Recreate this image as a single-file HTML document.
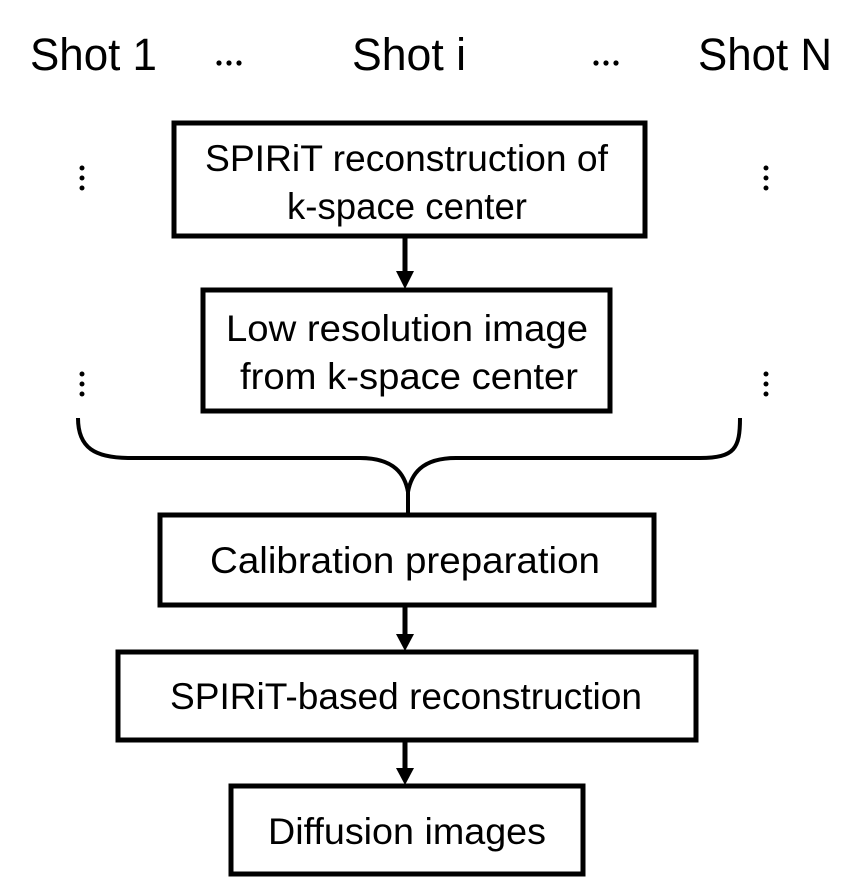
<!DOCTYPE html>
<html><head><meta charset="utf-8"><style>
html,body{margin:0;padding:0;background:#fff;width:864px;height:881px;overflow:hidden}
text{font-family:"Liberation Sans",sans-serif;fill:#000}
</style></head><body>
<svg width="864" height="881" viewBox="0 0 864 881" xmlns="http://www.w3.org/2000/svg">
<g font-size="45">
<text x="30" y="70" textLength="127" lengthAdjust="spacingAndGlyphs">Shot 1</text>
<text x="352" y="70" textLength="114" lengthAdjust="spacingAndGlyphs">Shot i</text>
<text x="698" y="70" textLength="134" lengthAdjust="spacingAndGlyphs">Shot N</text>
</g>
<g fill="#000">
<circle cx="219" cy="63" r="2.6"/><circle cx="229" cy="63" r="2.6"/><circle cx="239" cy="63" r="2.6"/>
<circle cx="596" cy="63" r="2.6"/><circle cx="606" cy="63" r="2.6"/><circle cx="616" cy="63" r="2.6"/>
<circle cx="82" cy="168" r="2.5"/><circle cx="82" cy="178" r="2.5"/><circle cx="82" cy="188" r="2.5"/>
<circle cx="766" cy="168" r="2.5"/><circle cx="766" cy="178" r="2.5"/><circle cx="766" cy="188" r="2.5"/>
<circle cx="82" cy="374" r="2.5"/><circle cx="82" cy="384" r="2.5"/><circle cx="82" cy="394" r="2.5"/>
<circle cx="766" cy="374" r="2.5"/><circle cx="766" cy="384" r="2.5"/><circle cx="766" cy="394" r="2.5"/>
</g>
<g fill="none" stroke="#000" stroke-width="5">
<rect x="174" y="123" width="471" height="113"/>
<rect x="203" y="290" width="407" height="121"/>
<rect x="160" y="515" width="494" height="90"/>
<rect x="118" y="652" width="578" height="88"/>
<rect x="231" y="786" width="352" height="88"/>
<path d="M78 418 C78 448 95 458 130 458 L360 458 C395 458 405 475 408 492 C411 475 421 458 456 458 L700 458 C735 458 740 448 740 418" stroke-width="4"/>
<line x1="408" y1="490" x2="408" y2="513" stroke-width="4"/>
<line x1="405" y1="238" x2="405" y2="272"/>
<line x1="405" y1="607" x2="405" y2="636"/>
<line x1="405" y1="742" x2="405" y2="770"/>
</g>
<g fill="#000">
<polygon points="396,271 414,271 405,289"/>
<polygon points="396,634 414,634 405,651"/>
<polygon points="396,768 414,768 405,785"/>
</g>
<g font-size="37">
<text x="205" y="171" textLength="403" lengthAdjust="spacingAndGlyphs">SPIRiT reconstruction of</text>
<text x="287" y="219" textLength="240" lengthAdjust="spacingAndGlyphs">k-space center</text>
<text x="226" y="341" textLength="362" lengthAdjust="spacingAndGlyphs">Low resolution image</text>
<text x="240" y="389" textLength="338" lengthAdjust="spacingAndGlyphs">from k-space center</text>
<text x="210" y="573" textLength="390" lengthAdjust="spacingAndGlyphs">Calibration preparation</text>
<text x="170" y="709" textLength="472" lengthAdjust="spacingAndGlyphs">SPIRiT-based reconstruction</text>
<text x="268" y="844" textLength="278" lengthAdjust="spacingAndGlyphs">Diffusion images</text>
</g>
</svg>
</body></html>
